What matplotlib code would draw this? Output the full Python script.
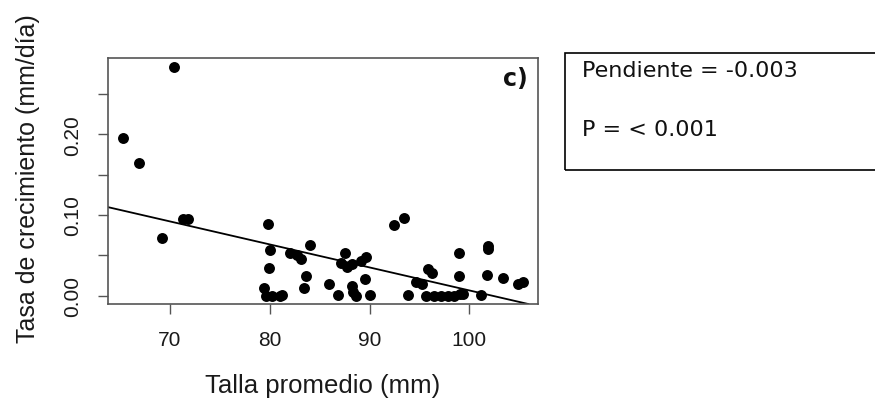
import matplotlib
matplotlib.use("Agg")
import matplotlib.pyplot as plt
from matplotlib.patches import Rectangle

# talla promedio (mm) vs tasa de crecimiento (mm/dia)
talla = [70.4, 65.3, 66.9, 71.3, 71.8, 69.2, 79.8, 80.0, 79.96, 79.4,
         79.6, 80.2, 81.0, 81.2, 82.0, 82.7, 83.1, 84.0, 83.6, 83.4,
         85.9, 86.8, 87.55, 87.1, 87.7, 88.2, 89.1, 89.6, 89.5, 88.2,
         88.3, 88.6, 90.0, 92.4, 93.4, 93.8, 94.6, 95.3, 95.9, 96.3,
         95.7, 96.5, 97.2, 97.9, 98.5, 99.1, 99.4, 99.0, 99.0, 101.2,
         101.9, 101.9, 101.8, 103.4, 104.9, 105.4]
tasa = [0.283, 0.196, 0.165, 0.095, 0.095, 0.072, 0.089, 0.056, 0.034, 0.009,
        0.0, 0.0, 0.0, 0.001, 0.053, 0.050, 0.046, 0.063, 0.025, 0.010,
        0.0145, 0.001, 0.053, 0.041, 0.036, 0.039, 0.043, 0.048, 0.021, 0.012,
        0.005, 0.0, 0.001, 0.088, 0.096, 0.001, 0.017, 0.0145, 0.033, 0.028,
        0.0, 0.0, 0.0, 0.0, 0.0, 0.002, 0.002, 0.053, 0.025, 0.001,
        0.062, 0.058, 0.026, 0.0215, 0.015, 0.017]

# recta de regresion
intercepto = 0.2915
pendiente = -0.00285

xticks = [70, 80, 90, 100]
yticks = [0.0, 0.05, 0.10, 0.15, 0.20, 0.25]
ytick_labels = ["0.00", "", "0.10", "", "0.20", ""]

texto = ["Pendiente = -0.003", "P = < 0.001"]

plt.rcParams["font.family"] = ["Liberation Sans", "DejaVu Sans"]

fig = plt.figure(figsize=(8.75, 4.02), dpi=100)
ax = fig.add_axes([0.1234, 0.2413, 0.4915, 0.6119])

ax.scatter(talla, tasa, s=62, color="black", zorder=3, linewidths=0)
ax.axline((0, intercepto), slope=pendiente, color="black", lw=1.3, zorder=2)

ax.set_xlim(63.78, 106.88)
ax.set_ylim(-0.0103, 0.2945)
ax.set_xticks(xticks)
ax.set_xticklabels([str(t) for t in xticks])
ax.set_yticks(yticks)
ax.set_yticklabels(ytick_labels, rotation=90, va="center")

for s in ax.spines.values():
    s.set_color("#555555")
    s.set_linewidth(1.2)
ax.tick_params(length=7.5, width=1.0, color="#555555", labelsize=15,
               labelcolor="#1a1a1a", pad=11)

ax.set_xlabel("Talla promedio (mm)", fontsize=18.5, color="#1a1a1a")
ax.set_ylabel("Tasa de crecimiento (mm/día)", fontsize=18, color="#1a1a1a")
ax.xaxis.set_label_coords(0.499, -0.28)
ax.yaxis.set_label_coords(-0.158, 0.512)

ax.text(0.977, 0.92, "c)", transform=ax.transAxes, ha="right", va="center",
        fontsize=17, fontweight="bold", color="#111111",
        family=["DejaVu Sans"])

fig.add_artist(Rectangle((0.6457, 0.5746), 0.40, 0.291, transform=fig.transFigure,
                         fill=False, edgecolor="black", lw=1.2))
fig.text(0.665, 0.8077, texto[0], fontsize=16, color="#111111",
         family=["DejaVu Sans"], va="baseline")
fig.text(0.665, 0.6617, texto[1], fontsize=16, color="#111111",
         family=["DejaVu Sans"], va="baseline")

fig.savefig("out.png", dpi=100)
